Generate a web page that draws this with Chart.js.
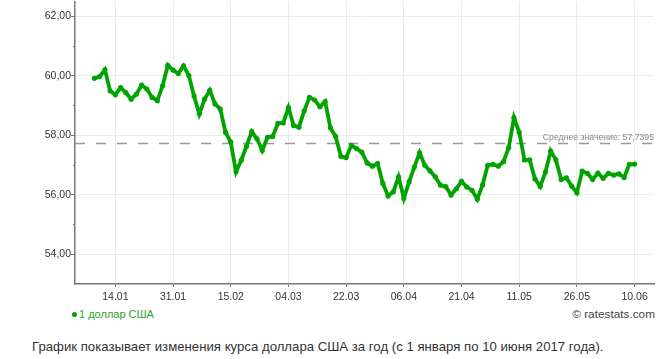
<!DOCTYPE html>
<html>
<head>
<meta charset="utf-8">
<script src="https://cdn.jsdelivr.net/npm/chart.js@4/dist/chart.umd.min.js"></script>
<style>
  html, body { margin: 0; padding: 0; background: #fff; }
  body { width: 659px; height: 359px; position: relative; overflow: hidden; font-family: "Liberation Sans", Arial, sans-serif; }
  #wrap { position: absolute; left: 0; top: -5px; width: 659px; height: 310px; }
  #legend { position: absolute; left: 72px; top: 307px; font-size: 11px; color: #2aa52a; line-height: 14px; white-space: nowrap; }
  #legend .dot { display: inline-block; width: 5px; height: 5px; border-radius: 50%; background: #00a300; margin-right: 2px; vertical-align: 1px; }
  #copy { position: absolute; right: 4px; top: 307px; font-size: 11.8px; color: #444; line-height: 14px; white-space: nowrap; }
  #caption { position: absolute; left: 32px; top: 339px; font-size: 13.2px; color: #333; line-height: 16px; white-space: nowrap; }
</style>
</head>
<body>
<div id="wrap"><canvas id="c" width="659" height="310"></canvas></div>
<div id="legend"><span class="dot"></span>1 доллар США</div>
<div id="copy">© ratestats.com</div>
<div id="caption">График показывает изменения курса доллара США за год (с 1 января по 10 июня 2017 года).</div>
<script>
const seriesName = '1 доллар США';
const usdValues = [
  59.91, 59.97, 60.20, 59.49, 59.36, 59.60, 59.43, 59.21, 59.38, 59.68,
  59.55, 59.27, 59.16, 59.66, 60.35, 60.19, 60.07, 60.33, 60.01, 59.32,
  58.71, 59.21, 59.51, 59.05, 58.88, 58.10, 57.77, 56.77, 57.16, 57.63,
  58.12, 57.88, 57.49, 57.93, 57.96, 58.40, 58.41, 58.93, 58.32, 58.27,
  58.82, 59.27, 59.18, 58.96, 59.13, 58.25, 57.96, 57.29, 57.25, 57.66,
  57.55, 57.43, 57.07, 56.96, 57.05, 56.38, 55.96, 56.10, 56.60, 55.88,
  56.43, 56.93, 57.41, 56.99, 56.80, 56.60, 56.32, 56.27, 55.99, 56.20,
  56.45, 56.26, 56.15, 55.85, 56.32, 56.99, 57.02, 56.96, 57.11, 57.58,
  58.59, 58.10, 57.17, 57.17, 56.53, 56.28, 56.76, 57.47, 57.17, 56.51,
  56.57, 56.29, 56.07, 56.79, 56.72, 56.51, 56.73, 56.55, 56.72, 56.66,
  56.70, 56.58, 57.02, 57.03
];
const tickIndices = [4, 15, 26, 37, 48, 59, 70, 81, 92, 103];
const tickLabels = ['14.01', '31.01', '15.02', '04.03', '22.03', '06.04', '21.04', '11.05', '26.05', '10.06'];
const averageValue = 57.7395;
const averageLabel = 'Среднее значение: 57,7395';

const points = usdValues.map((v, i) => ({ x: i, y: v }));

const avgPlugin = {
  id: 'avgLine',
  beforeDatasetsDraw(chart) {
    const { ctx, chartArea, scales } = chart;
    const y = Math.round(scales.y.getPixelForValue(averageValue)) + 0.5;
    ctx.save();
    ctx.strokeStyle = '#999';
    ctx.lineWidth = 1.5;
    ctx.setLineDash([10, 11]);
    ctx.beginPath();
    ctx.moveTo(chartArea.left, y);
    ctx.lineTo(chartArea.right, y);
    ctx.stroke();
    ctx.setLineDash([]);
    ctx.fillStyle = '#888';
    ctx.font = '8.7px "Liberation Sans", Arial, sans-serif';
    ctx.textAlign = 'right';
    ctx.textBaseline = 'bottom';
    ctx.fillText(averageLabel, chartArea.right, y - 2);
    // minor ticks on y axis
    ctx.strokeStyle = '#777';
    ctx.lineWidth = 1;
    for (let v = Math.ceil(scales.y.min); v <= scales.y.max; v++) {
      if (v % 2 === 1 && v > scales.y.min) {
        const py = Math.round(scales.y.getPixelForValue(v)) + 0.5;
        ctx.beginPath();
        ctx.moveTo(chartArea.left - 2, py);
        ctx.lineTo(chartArea.left, py);
        ctx.stroke();
      }
    }
    ctx.restore();
  }
};

new Chart(document.getElementById('c'), {
  type: 'line',
  data: {
    datasets: [{
      label: seriesName,
      data: points,
      borderColor: '#00a300',
      backgroundColor: '#00a300',
      borderWidth: 3.8,
      pointRadius: 2.6,
      pointBorderWidth: 0,
      pointBackgroundColor: '#00a300',
      tension: 0,
      fill: false
    }]
  },
  options: {
    responsive: false,
    animation: false,
    events: [],
    layout: { padding: { top: 0, right: 5, left: 0, bottom: 0 } },
    plugins: { legend: { display: false }, tooltip: { enabled: false } },
    scales: {
      x: {
        type: 'linear',
        min: -3.7,
        max: 106.7,
        afterBuildTicks(scale) {
          scale.ticks = tickIndices.map(v => ({ value: v }));
        },
        afterFit(scale) { scale.height = 21; },
        ticks: {
          autoSkip: false,
          maxRotation: 0,
          padding: 4,
          color: '#333',
          font: { family: '"Liberation Sans", Arial, sans-serif', size: 10.5 },
          callback(value) {
            const k = tickIndices.indexOf(value);
            return k >= 0 ? tickLabels[k] : '';
          }
        },
        grid: { color: '#ebebeb', lineWidth: 1, tickLength: 3, tickColor: '#777' },
        border: { color: '#777', width: 1.5 }
      },
      y: {
        min: 53,
        max: 62.5,
        afterBuildTicks(scale) {
          const t = [];
          for (let v = 53; v <= 62; v++) t.push({ value: v });
          scale.ticks = t;
        },
        afterFit(scale) { scale.width = 75; },
        ticks: {
          padding: 0,
          color: '#333',
          font: { family: '"Liberation Sans", Arial, sans-serif', size: 10.5 },
          callback(value) {
            return value % 2 === 0 ? value.toFixed(2).replace('.', ',') : '';
          }
        },
        grid: {
          color: ctx => (ctx.tick && ctx.tick.value % 2 === 0) ? '#ebebeb' : 'rgba(0,0,0,0)',
          tickColor: ctx => (ctx.tick && ctx.tick.value % 2 === 0) ? '#777' : 'rgba(0,0,0,0)',
          tickLength: 4,
          lineWidth: 1
        },
        border: { color: '#777', width: 1.5 }
      }
    }
  },
  plugins: [avgPlugin]
});
</script>
</body>
</html>
